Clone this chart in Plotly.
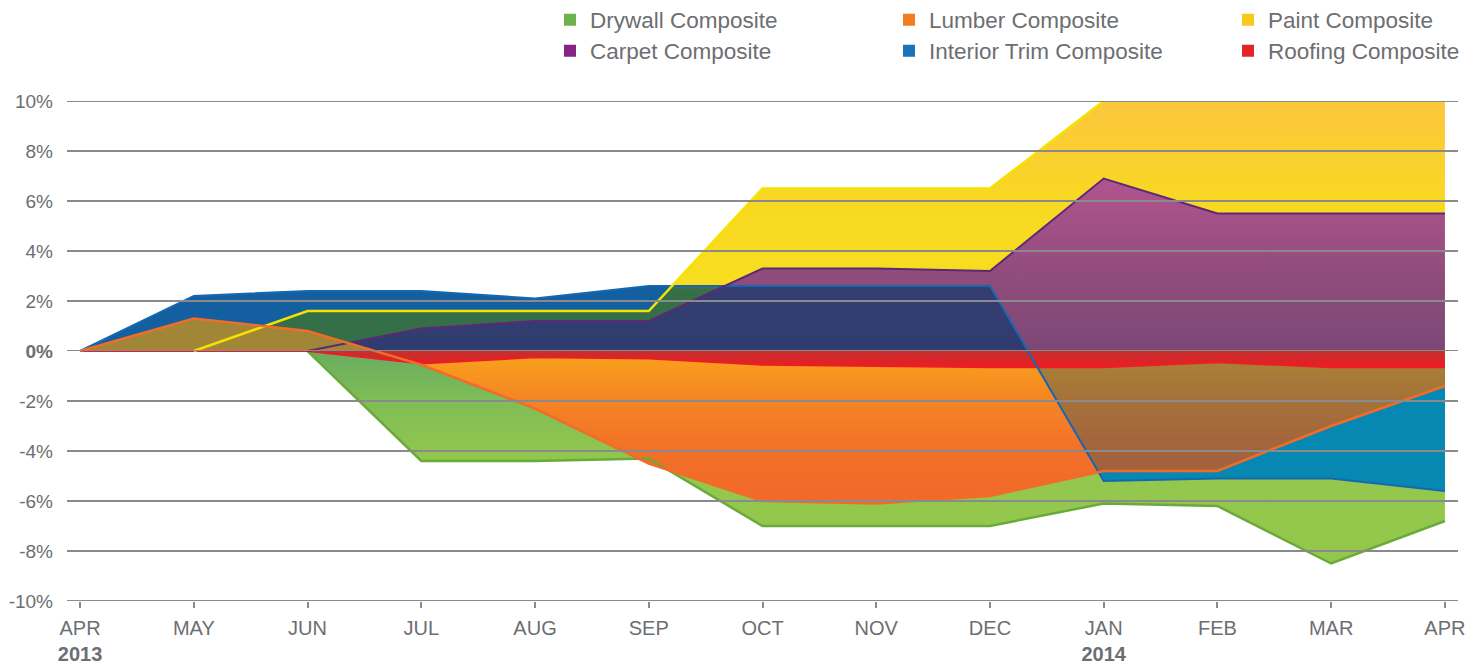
import plotly.graph_objects as go

# ---------------- data ----------------
months = ["APR<br><b>2013</b>", "MAY", "JUN", "JUL", "AUG", "SEP", "OCT", "NOV", "DEC",
          "JAN<br><b>2014</b>", "FEB", "MAR", "APR"]
drywall = [None, None, 0, -4.4, -4.4, -4.3, -7.0, -7.0, -7.0, -6.1, -6.2, -8.5, -6.8]
lumber = [0, 1.3, 0.8, -0.55, -2.3, -4.5, -6.0, -6.1, -5.8, -4.8, -4.8, -3.0, -1.4]
paint = [None, 0, 1.6, 1.6, 1.6, 1.6, 6.5, 6.5, 6.5, 10.0, 10.0, 10.0, 10.0]
carpet = [None, None, 0, 0.9, 1.2, 1.2, 3.3, 3.3, 3.2, 6.9, 5.5, 5.5, 5.5]
interior_trim = [0, 2.2, 2.4, 2.4, 2.1, 2.6, 2.6, 2.6, 2.6, -5.2, -5.1, -5.1, -5.6]
roofing = [0, 0, 0, -0.5, -0.25, -0.3, -0.55, -0.6, -0.65, -0.65, -0.45, -0.65, -0.65]

series_names = ["Drywall Composite", "Lumber Composite", "Paint Composite",
                "Carpet Composite", "Interior Trim Composite", "Roofing Composite"]
legend_colors = ["#6db24c", "#f47b20", "#f8c81c", "#862585", "#1b73b9", "#e1252b"]

y_ticks_top = [0, 2, 4, 6, 8, 10]
y_ticks_bottom = [-10, -8, -6, -4, -2]

FONT = "Liberation Sans, Arial, sans-serif"
GRAY = "#6d6e71"
GRID = "#8a8a8c"

W, H = 1473, 659   # page has an 8px body margin, so the figure fits the 1481x667 window

fig = go.Figure()


def area(y, xa, ya, color=None, grad=None):
    kw = dict(x=months, y=y, xaxis=xa, yaxis=ya, mode="none", fill="tozeroy",
              showlegend=False, hoverinfo="skip")
    if grad is not None:
        kw["fillgradient"] = grad
    else:
        kw["fillcolor"] = color
    fig.add_trace(go.Scatter(**kw))


def vgrad(start, stop, scale):
    return dict(type="vertical", start=start, stop=stop, colorscale=scale)


paint_grad = vgrad(0, 10, [[0, "rgb(139,219,4)"], [0.245, "rgb(139,219,4)"],
                           [0.262, "rgb(247,222,30)"], [0.6, "rgb(248,216,34)"],
                           [1, "rgb(252,198,62)"]])
carpet_grad = vgrad(0, 7, [[0, "rgb(124,72,118)"], [0.45, "rgb(145,76,124)"], [1, "rgb(178,84,144)"]])
drywall_grad = vgrad(-10, 0, [[0, "rgb(148,200,76)"], [0.56, "rgb(147,199,77)"],
                              [0.8, "rgb(128,189,86)"], [1, "rgb(104,172,96)"]])
lumber_grad = vgrad(-6.2, 0, [[0, "rgb(242,104,42)"], [0.35, "rgb(242,112,40)"],
                              [0.7, "rgb(245,134,36)"], [1, "rgb(250,164,28)"]])
roofing_grad = vgrad(-0.65, 0, [[0, "rgb(236,28,36)"], [1, "rgb(196,48,46)"]])

# ---- upper half (0 .. 10 %) ----
area(interior_trim, "x", "y", "rgb(48,173,255)")
area(paint, "x", "y", grad=paint_grad)
area(carpet, "x", "y", grad=carpet_grad)
area(interior_trim, "x", "y", "rgba(6,54,108,0.65)")
area(lumber, "x", "y", "rgb(161,134,56)")

# ---- lower half (-10 .. 0 %) ----
area(drywall, "x2", "y2", grad=drywall_grad)
area(interior_trim, "x2", "y2", "rgb(0,168,221)")
area(lumber, "x2", "y2", grad=lumber_grad)
area(interior_trim, "x2", "y2", "rgba(18,76,100,0.35)")
area(roofing, "x2", "y2", grad=roofing_grad)

# ---- outlines on top of the fills ----
line_specs = [
    (drywall, "#6aaa3a", 2.5),
    (roofing, "#ec1e24", 2),
    (interior_trim, "#1468b2", 2),
    (carpet, "#5c2878", 2),
    (paint, "#f6e200", 2.5),
    (lumber, "#f26c28", 2.5),
]
for xa, ya in (("x", "y"), ("x2", "y2")):
    for vals, col, w in line_specs:
        fig.add_trace(go.Scatter(x=months, y=vals, xaxis=xa, yaxis=ya, mode="lines",
                                 line=dict(color=col, width=w), showlegend=False,
                                 hoverinfo="skip"))

# ---- legend entries ----
for i, (nm, col) in enumerate(zip(series_names, legend_colors)):
    fig.add_trace(go.Scatter(x=[None], y=[None], xaxis="x2", yaxis="y2", mode="markers",
                             name=nm, marker=dict(symbol="square", size=13, color=col),
                             legend="legend" if i < 3 else "legend2"))

# ---- gridlines above the areas ----
shapes = []
for v in y_ticks_top:
    shapes.append(dict(type="line", xref="paper", x0=0, x1=1, yref="y", y0=v, y1=v,
                       line=dict(color=GRID, width=2), layer="above"))
for v in y_ticks_bottom:
    shapes.append(dict(type="line", xref="paper", x0=0, x1=1, yref="y2", y0=v, y1=v,
                       line=dict(color=GRID, width=2), layer="above"))

xrange = [-0.115, 12.115]
legend_common = dict(orientation="h", xref="container", yref="container",
                     xanchor="left", yanchor="middle", entrywidth=294,
                     entrywidthmode="pixels", bgcolor="rgba(0,0,0,0)",
                     font=dict(family=FONT, size=22.5, color=GRAY), itemsizing="constant")

fig.update_layout(
    width=W, height=H,
    margin=dict(l=59, r=23, t=93, b=66, autoexpand=False),
    paper_bgcolor="white", plot_bgcolor="white",
    font=dict(family=FONT, size=20, color=GRAY),
    shapes=shapes,
    showlegend=True,
    legend=dict(x=542 / W, y=1 - 12 / H, **legend_common),
    legend2=dict(x=542 / W, y=1 - 43 / H, **legend_common),
    xaxis=dict(domain=[0, 1], anchor="y", range=xrange, type="category",
               categoryorder="array", categoryarray=months, automargin=False,
               showticklabels=False, ticks="", showgrid=False, zeroline=False),
    xaxis2=dict(domain=[0, 1], anchor="y2", range=xrange, type="category",
                categoryorder="array", categoryarray=months, matches="x", automargin=False,
                ticks="outside", ticklen=6, tickwidth=1.5, tickcolor=GRID,
                showgrid=False, zeroline=False, showline=False,
                tickfont=dict(family=FONT, size=20, color=GRAY), ticklabelstandoff=3),
    yaxis=dict(domain=[0.5, 1], anchor="x", range=[0, 10], tickvals=y_ticks_top,
               ticktext=["<b>0%</b>" if v == 0 else f"{v}%" for v in y_ticks_top],
               showgrid=False, zeroline=False, ticks="", ticklabelstandoff=13, automargin=False,
               tickfont=dict(family=FONT, size=19, color=GRAY)),
    yaxis2=dict(domain=[0, 0.5], anchor="x2", range=[-10, 0], tickvals=y_ticks_bottom,
                ticktext=[f"{v}%" for v in y_ticks_bottom], automargin=False,
                showgrid=False, zeroline=False, ticks="", ticklabelstandoff=13,
                tickfont=dict(family=FONT, size=19, color=GRAY)),
)

fig.write_html("out.html")
